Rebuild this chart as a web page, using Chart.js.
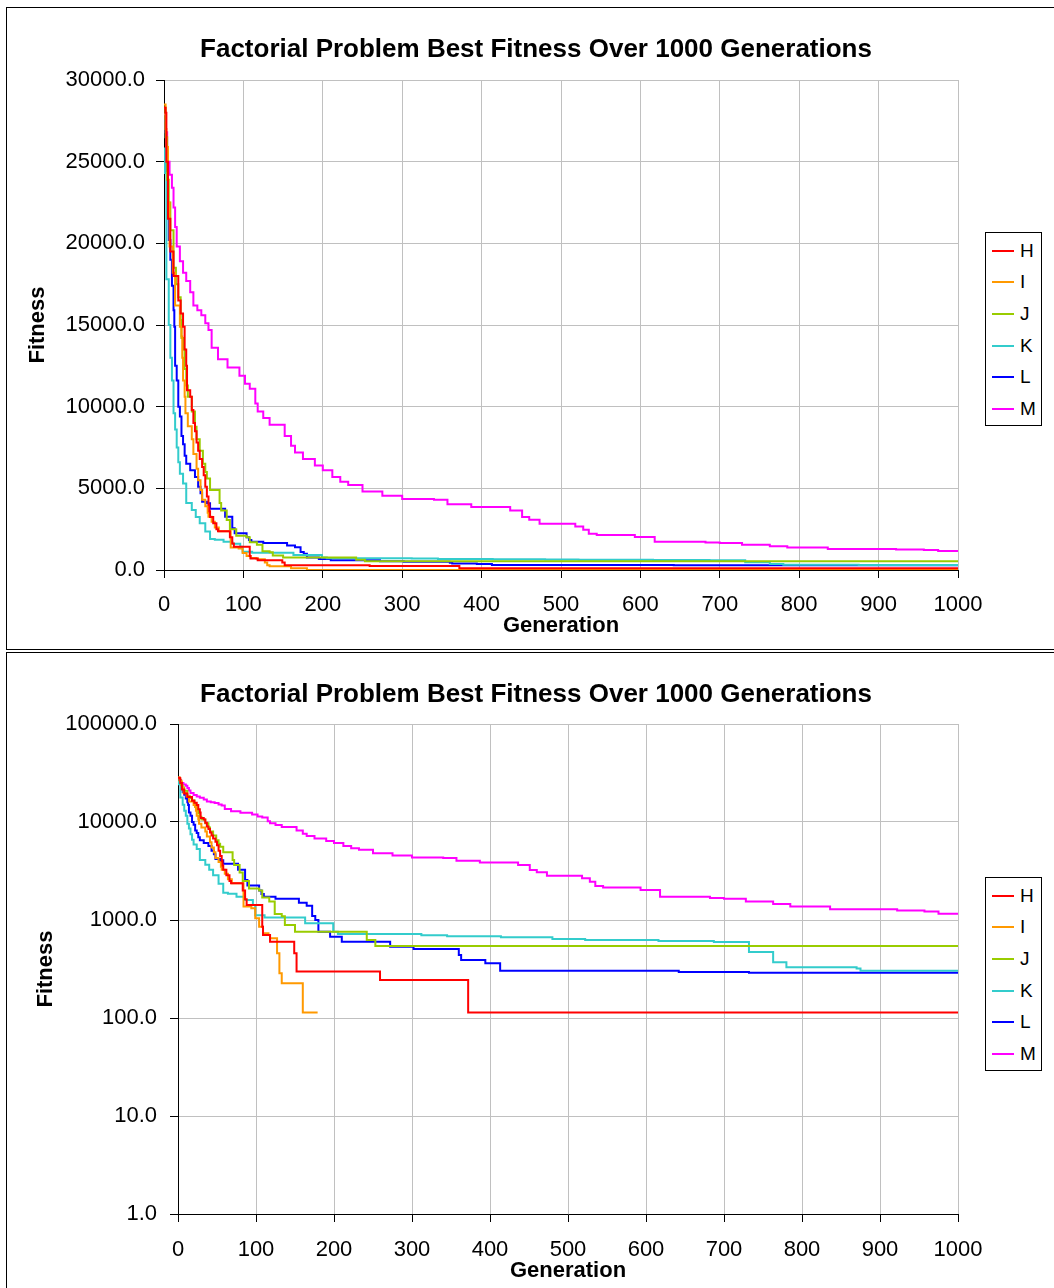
<!DOCTYPE html>
<html>
<head>
<meta charset="utf-8">
<title>Factorial Problem Best Fitness</title>
<script src="https://cdn.jsdelivr.net/npm/chart.js@4.4.1/dist/chart.umd.min.js"></script>
<style>
  html, body { margin: 0; padding: 0; overflow: hidden; background: #fff; width: 1054px; height: 1288px; }
  .panel { position: absolute; left: 6px; width: 1070px; border: 1px solid #000; box-sizing: border-box; background: #fff; }
  canvas { position: absolute; left: 8px; }
  .legend { position: absolute; left: 985px; width: 57px; border: 1px solid #000; box-sizing: border-box;
            background: #fff; padding-top: 2px; font-family: "Liberation Sans", Arial, sans-serif; font-size: 19px; color: #000; }
  .legend .row { height: 31.6px; display: flex; align-items: center; }
  .legend .swatch { display: inline-block; width: 22px; height: 2px; margin-left: 6px; margin-right: 6px; }
</style>
</head>
<body>
<div class="panel" style="top:7px;height:643px"></div>
<div class="panel" style="top:652px;height:650px"></div>
<canvas id="linChart" width="1056" height="640" style="top:8px"></canvas>
<canvas id="logChart" width="1056" height="639" style="top:653px"></canvas>
<div id="linLegend" class="legend" style="top:232px"></div>
<div id="logLegend" class="legend" style="top:877px"></div>

<script>
const chartTitle = "Factorial Problem Best Fitness Over 1000 Generations";
const seriesNames = ["H", "I", "J", "K", "L", "M"];
const seriesColors = ["#FF0000", "#FF9900", "#99CC00", "#33CCCC", "#0000FF", "#FF00FF"];
const logTicks = [1, 10, 100, 1000, 10000, 100000];

// generation where each best-fitness value starts, and the value itself
const hGen = [0, 2, 3, 5, 8, 12, 18, 21, 24, 26, 28, 29, 33, 35, 37, 39, 41, 43, 45, 48, 50, 52, 54, 56, 57, 58, 62, 66, 68, 83, 86, 88, 108, 109, 118, 149, 152, 259, 372, 1000];
const hFit = [28300, 28000, 25000, 21500, 19500, 18000, 16500, 15700, 14900, 13500, 12500, 11000, 10600, 9800, 9000, 8500, 7800, 7300, 6800, 6300, 5800, 5100, 4500, 4000, 3600, 3250, 2860, 2500, 2370, 2000, 1630, 1420, 853, 703, 600, 457, 298, 244, 114, 114];

const iGen = [0, 2, 3, 5, 7, 11, 14, 20, 22, 23, 24, 26, 27, 30, 35, 37, 41, 43, 46, 48, 52, 55, 56, 60, 64, 69, 84, 94, 99, 104, 109, 116, 118, 127, 130, 133, 160, 179, 180, 1000];
const iFit = [28500, 27000, 25900, 22500, 19800, 18200, 16200, 14900, 14300, 13000, 11600, 10600, 9600, 8800, 8000, 7100, 6200, 5500, 4900, 4300, 3900, 3500, 3260, 2960, 2600, 2370, 1370, 1320, 1040, 853, 731, 703, 651, 457, 286, 226, 114, 114, 0, 0];

const jGen = [0, 2, 4, 6, 8, 12, 15, 18, 21, 22, 24, 26, 28, 30, 35, 39, 41, 45, 49, 52, 54, 58, 70, 72, 79, 83, 91, 104, 108, 117, 124, 133, 137, 150, 242, 253, 1000];
const jFit = [28300, 26500, 23900, 22500, 20800, 18500, 17500, 16700, 15300, 14200, 13500, 12300, 11300, 10600, 9700, 8770, 8000, 7300, 6500, 6000, 5600, 4900, 4100, 3650, 3060, 2500, 2100, 2000, 1700, 1540, 1150, 1090, 889, 760, 625, 543, 543];

const kGen = [0, 1, 3, 6, 8, 10, 12, 14, 16, 18, 20, 24, 28, 35, 40, 45, 52, 58, 64, 75, 86, 96, 99, 111, 163, 199, 205, 312, 345, 414, 480, 522, 616, 687, 732, 763, 780, 870, 875, 1000];
const kFit = [25800, 24300, 17800, 15000, 13000, 11600, 9600, 8600, 7500, 6600, 5900, 5300, 4100, 3670, 3250, 2860, 2350, 1900, 1850, 1730, 1600, 1420, 1120, 1060, 925, 760, 720, 700, 681, 665, 640, 625, 611, 597, 471, 370, 329, 320, 304, 304];

const lGen = [0, 2, 3, 4, 6, 8, 10, 12, 13, 14, 16, 18, 20, 22, 24, 26, 28, 33, 39, 43, 46, 48, 54, 58, 77, 86, 89, 104, 107, 110, 125, 155, 165, 172, 176, 180, 195, 210, 272, 302, 360, 363, 394, 413, 642, 732, 1000];
const lFit = [27500, 26500, 24300, 21800, 20200, 19000, 17400, 15900, 14900, 12500, 11600, 10000, 9400, 8200, 7700, 7000, 6500, 6100, 5700, 5100, 4700, 4180, 4080, 3750, 3260, 2560, 2250, 2000, 1840, 1730, 1650, 1500, 1400, 1100, 1000, 760, 676, 600, 534, 506, 440, 391, 361, 304, 294, 290, 290];

const mGen = [0, 2, 4, 7, 10, 12, 14, 16, 20, 24, 28, 33, 37, 42, 47, 52, 56, 60, 68, 80, 95, 102, 108, 115, 118, 125, 133, 152, 160, 165, 175, 190, 200, 212, 222, 232, 250, 275, 300, 340, 357, 387, 436, 451, 460, 473, 518, 528, 535, 545, 593, 618, 682, 700, 728, 763, 785, 836, 922, 957, 975, 1000];
const mFit = [27900, 26800, 25000, 24200, 23400, 22200, 21000, 19800, 18900, 18200, 17700, 17000, 16200, 15900, 15600, 15100, 14700, 13600, 12900, 12400, 11900, 11400, 11100, 10200, 9700, 9300, 8900, 8200, 7600, 7200, 6800, 6400, 6100, 5700, 5400, 5200, 4800, 4550, 4350, 4300, 4030, 3850, 3640, 3240, 3070, 2830, 2660, 2460, 2220, 2140, 2020, 1730, 1680, 1650, 1540, 1460, 1370, 1290, 1250, 1220, 1160, 1160];

const seriesGens = [hGen, iGen, jGen, kGen, lGen, mGen];
const seriesFits = [hFit, iFit, jFit, kFit, lFit, mFit];

Chart.defaults.font.family = '"Liberation Sans", Arial, sans-serif';
Chart.defaults.color = "#000";

function makeDatasets(isLog) {
  return seriesNames.map((name, i) => ({
    label: name,
    data: seriesGens[i].map((g, k) => {
      const v = seriesFits[i][k];
      return { x: g, y: isLog && v <= 0 ? null : v };
    }),
    borderColor: seriesColors[i],
    backgroundColor: seriesColors[i],
    borderWidth: 2,
    pointRadius: 0,
    stepped: true,
    fill: false,
  }));
}

function makeChart(canvasId, isLog, yWidth, yTitlePad, yTickPad, titleBottom, xTickPad, xTitlePad) {
  const yScale = isLog
    ? {
        type: "logarithmic",
        min: 1,
        max: 100000,
        afterBuildTicks: (scale) => { scale.ticks = logTicks.map((v) => ({ value: v })); },
      }
    : { type: "linear", min: 0, max: 30000 };

  Object.assign(yScale, {
    position: "left",
    ticks: {
      stepSize: 5000,
      padding: yTickPad,
      font: { size: 22 },
      color: "#000",
      callback: (v) => Number(v).toFixed(1),
    },
    grid: { color: "#c0c0c0", tickColor: "#000", tickLength: 8, lineWidth: 1 },
    border: { color: "#000", width: 1 },
    title: {
      display: true,
      text: "Fitness",
      font: { size: 22, weight: "bold" },
      color: "#000",
      padding: { top: yTitlePad, bottom: 0 },
    },
    afterFit: (scale) => { scale.width = yWidth; },
  });

  return new Chart(document.getElementById(canvasId), {
    type: "line",
    data: { datasets: makeDatasets(isLog) },
    options: {
      responsive: false,
      animation: false,
      layout: { padding: 0 },
      plugins: {
        legend: { display: false },
        tooltip: { enabled: false },
        title: {
          display: true,
          text: chartTitle,
          color: "#000",
          font: { size: 26, weight: "bold" },
          padding: { top: 26.4, bottom: titleBottom },
        },
      },
      scales: {
        x: {
          type: "linear",
          min: 0,
          max: 1000,
          ticks: {
            stepSize: 100,
            padding: xTickPad,
            font: { size: 22 },
            color: "#000",
            maxRotation: 0,
            callback: (v) => String(v),
          },
          grid: { color: "#c0c0c0", tickColor: "#000", tickLength: 8, lineWidth: 1 },
          border: { color: "#000", width: 1 },
          title: {
            display: true,
            text: "Generation",
            font: { size: 22, weight: "bold" },
            color: "#000",
            padding: { top: 0, bottom: xTitlePad },
          },
          afterFit: (scale) => { scale.height = 78; },
        },
        y: yScale,
        // empty right-hand box that keeps room for the legend
        spacer: {
          type: "linear",
          position: "right",
          display: true,
          ticks: { display: false },
          grid: { display: false, drawTicks: false },
          border: { display: false },
          afterFit: (scale) => { scale.width = 106; },
        },
      },
    },
  });
}

function buildLegend(id) {
  const box = document.getElementById(id);
  seriesNames.forEach((name, i) => {
    const row = document.createElement("div");
    row.className = "row";
    row.innerHTML = `<span class="swatch" style="background:${seriesColors[i]}"></span><span>${name}</span>`;
    box.appendChild(row);
  });
}

makeChart("linChart", false, 156, 16.8, 11, 14.4, 14, 8.8);
makeChart("logChart", true, 170, 24.8, 13, 13.4, 15, 7.8);
buildLegend("linLegend");
buildLegend("logLegend");
</script>
</body>
</html>
